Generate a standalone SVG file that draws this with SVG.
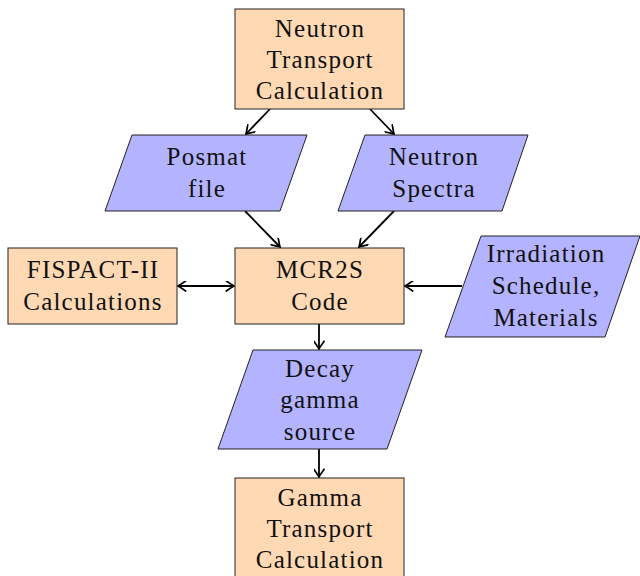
<svg xmlns="http://www.w3.org/2000/svg" width="640" height="576" viewBox="0 0 640 576">
<style>
.proc{fill:#FFD9B3;stroke:#222;stroke-width:1}
.io{fill:#B3B3FF;stroke:#222;stroke-width:1}
.t{font-family:'Liberation Serif','Times New Roman',serif;font-size:25px;letter-spacing:1.2px;fill:#111;text-anchor:middle}
.c{stroke:#000;stroke-width:1.8;fill:none;marker-end:url(#a)}
.d{marker-start:url(#b)}
</style>
<defs>
<marker id="a" viewBox="-8 -5 10 10" refX="0" refY="0" markerWidth="11" markerHeight="11" markerUnits="userSpaceOnUse" orient="auto">
<path d="M-7.5,-5 Q-2,-1 0,0 Q-2,1 -7.5,5" fill="none" stroke="#000" stroke-width="1.6"/>
</marker>
<marker id="b" viewBox="-2 -5 10 10" refX="0" refY="0" markerWidth="11" markerHeight="11" markerUnits="userSpaceOnUse" orient="auto">
<path d="M7.5,-5 Q2,-1 0,0 Q2,1 7.5,5" fill="none" stroke="#000" stroke-width="1.6"/>
</marker>
</defs>
<g id="connectors">
<line class="c" x1="270" y1="109" x2="246" y2="134"/>
<line class="c" x1="370" y1="109" x2="394" y2="134"/>
<line class="c" x1="245" y1="211" x2="280" y2="247"/>
<line class="c" x1="394" y1="211" x2="359" y2="247"/>
<line class="c d" x1="178" y1="286" x2="234" y2="286"/>
<line class="c" x1="462" y1="286" x2="405" y2="286"/>
<line class="c" x1="319" y1="324" x2="319" y2="349"/>
<line class="c" x1="319" y1="449" x2="319" y2="477"/>
</g>
<g id="neutron-transport">
<rect class="proc" x="235" y="9" width="169" height="100"/>
<text class="t" x="320" y="37">Neutron</text>
<text class="t" x="320" y="68">Transport</text>
<text class="t" x="320" y="99">Calculation</text>
</g>
<g id="posmat">
<polygon class="io" points="132,135 307,135 280,211 105,211"/>
<text class="t" x="207" y="165">Posmat</text>
<text class="t" x="207" y="197">file</text>
</g>
<g id="spectra">
<polygon class="io" points="365,135 528,135 502,211 338,211"/>
<text class="t" x="434" y="165">Neutron</text>
<text class="t" x="434" y="197">Spectra</text>
</g>
<g id="fispact">
<rect class="proc" x="8" y="248" width="169" height="76"/>
<text class="t" x="93" y="278">FISPACT-II</text>
<text class="t" x="93" y="310">Calculations</text>
</g>
<g id="mcr2s">
<rect class="proc" x="235" y="248" width="169" height="76"/>
<text class="t" x="320" y="278">MCR2S</text>
<text class="t" x="320" y="310">Code</text>
</g>
<g id="irradiation">
<polygon class="io" points="481,236 640,236 605,337 445,337"/>
<text class="t" x="546" y="262">Irradiation</text>
<text class="t" x="546" y="294">Schedule,</text>
<text class="t" x="546" y="326">Materials</text>
</g>
<g id="decay">
<polygon class="io" points="253,350 422,350 387,449 218,449"/>
<text class="t" x="320" y="377">Decay</text>
<text class="t" x="320" y="408">gamma</text>
<text class="t" x="320" y="440">source</text>
</g>
<g id="gamma-transport">
<rect class="proc" x="235" y="478" width="169" height="102"/>
<text class="t" x="320" y="506">Gamma</text>
<text class="t" x="320" y="537">Transport</text>
<text class="t" x="320" y="568">Calculation</text>
</g>
</svg>
